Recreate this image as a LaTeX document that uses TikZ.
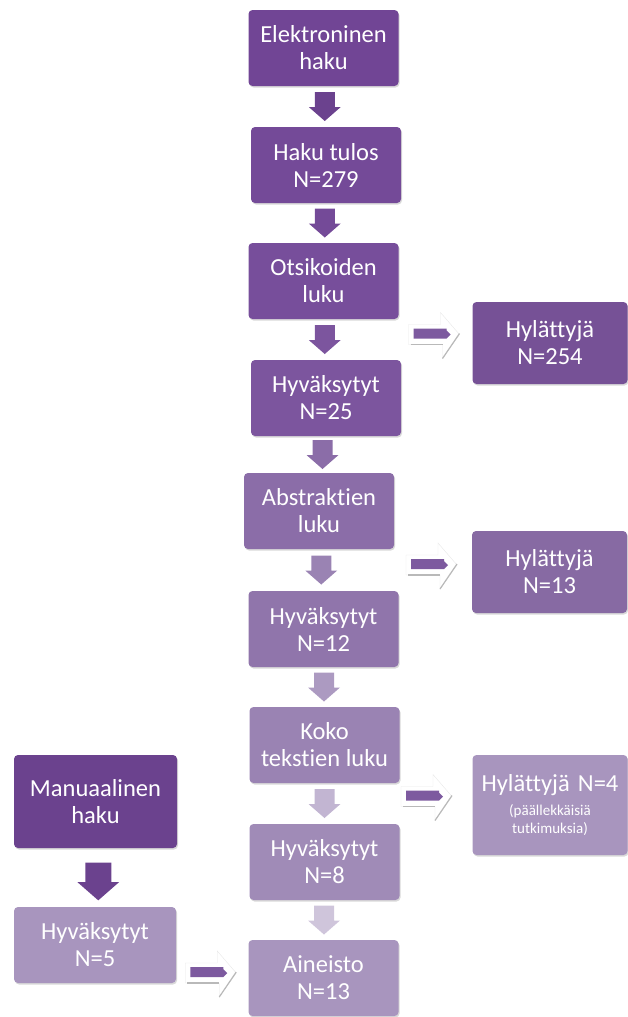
\documentclass[tikz,border=0pt]{standalone}
\usepackage{fontspec}
\setmainfont[Ligatures=NoCommon]{Carlito}
\usetikzlibrary{calc,shadows}

\definecolor{boxa}{HTML}{714595}
\definecolor{boxb}{HTML}{744A98}
\definecolor{boxc}{HTML}{774E9B}
\definecolor{boxd}{HTML}{7C559E}
\definecolor{boxe}{HTML}{8B6DA8}
\definecolor{boxf}{HTML}{9075AB}
\definecolor{boxg}{HTML}{9A83B3}
\definecolor{boxh}{HTML}{A08BB7}
\definecolor{boxi}{HTML}{A895BE}
\definecolor{bar}{HTML}{7D5A9F}

\tikzset{
    pics/dnarrow/.style={code={
        \fill[#1] (-10,-14.5) -- (10,-14.5) -- (10,0.5) -- (16,0.5) -- (0,14.5) -- (-16,0.5) -- (-10,0.5) -- cycle;
    }},
    pics/rtarrow/.style={code={
        \filldraw[fill=white, draw=gray!18] (-27,-15) -- (5,-15) -- (5,-27) -- (24,-5) -- (7,19) -- (7,5) -- (-27,5) -- cycle;
        \draw[gray!55, line width=1.5pt] (-25,5) -- (7,5);
        \draw[gray!55, line width=1.2pt] (7,19) -- (24,-6);
        \fill[bar] (-22,-11) -- (11,-11) -- (11,-9) -- (15,-5) -- (11,-1) -- (-22,-1) -- cycle;
    }}
}

\begin{document}
\begin{tikzpicture}[x=1pt, y=-1pt,
    box/.style={rounded corners=4pt, text=white, align=center, inner sep=0pt,
        minimum width=150pt, minimum height=76pt, font=\fontsize{24.5}{27}\selectfont,
        drop shadow={opacity=0.3, shadow xshift=1pt, shadow yshift=-1.5pt}},
    sidebox/.style={box, minimum width=155pt, minimum height=82pt}]

    \useasboundingbox (0,0) rectangle (627,1017);

    \node [box, fill=boxa] (elek) at (323.5,48) {Elektroninen\\haku};
    \node [box, fill=boxb] (tulos) at (326,165) {Haku tulos\\N=279};
    \node [box, fill=boxc] (otsi) at (323.5,281) {Otsikoiden\\luku};
    \node [box, fill=boxd] (hyv25) at (326,398) {Hyväksytyt\\N=25};
    \node [box, fill=boxe] (abst) at (319,511) {Abstraktien\\luku};
    \node [box, fill=boxf] (hyv12) at (323.5,629) {Hyväksytyt\\N=12};
    \node [box, fill=boxg] (koko) at (324.5,745) {Koko\\tekstien luku};
    \node [box, fill=boxh] (hyv8) at (324.5,862) {Hyväksytyt\\N=8};
    \node [box, fill=boxi] (ain) at (323.5,978) {Aineisto\\N=13};

    \node [sidebox, fill=boxd!95!black] (hyl254) at (550,343) {Hylättyjä\\N=254};
    \node [sidebox, fill=boxe!97!black] (hyl13) at (549.5,572) {Hylättyjä\\N=13};
    \node [sidebox, fill=boxi, minimum height=100pt, text width=155pt] (hyl4) at (550,805)
        {Hylättyjä N=4\par\vspace{6pt}{\fontsize{15}{18}\selectfont (päällekkäisiä\\tutkimuksia)\par}};

    \node [box, fill=boxa!95!black, minimum width=163pt, minimum height=93pt] (manu) at (95.5,801.5) {Manuaalinen\\haku};
    \node [box, fill=boxi, minimum width=162pt] (hyv5) at (95,945) {Hyväksytyt\\N=5};

    \pic at ($(elek.south)!.5!(tulos.north)$) {dnarrow={black!5!boxa}};
    \pic at ($(tulos.south)!.5!(otsi.north)$) {dnarrow={boxb}};
    \pic at ($(otsi.south)!.5!(hyv25.north)$) {dnarrow={boxd}};
    \pic at ($(hyv25.south)!.5!(abst.north)$) {dnarrow={boxe}};
    \pic at ($(abst.south)!.5!(hyv12.north)$) {dnarrow={boxg}};
    \pic at ($(hyv12.south)!.5!(koko.north)$) {dnarrow={boxi!95!white}};
    \pic at ($(koko.south)!.5!(hyv8.north)$) {dnarrow={boxi!70!white}};
    \pic at ($(hyv8.south)!.5!(ain.north)$) {dnarrow={boxi!55!white}};
    \pic [scale=1.3] at ($(manu.south)!.5!(hyv5.north)+(3,4)$) {dnarrow={boxa!95!black}};

    \pic at ($(otsi.south east)!.5!(hyl254.west |- hyv25.north)$) {rtarrow};
    \pic at ($(abst.south east)!.5!(hyl13.west |- hyv12.north)$) {rtarrow};
    \pic at ($(koko.south east)!.5!(hyl4.west |- hyv8.north)+(-8,-2)$) {rtarrow};
    \pic at ($(hyv5.east |- ain.west)!.5!(ain.west)$) {rtarrow};
\end{tikzpicture}
\end{document}
